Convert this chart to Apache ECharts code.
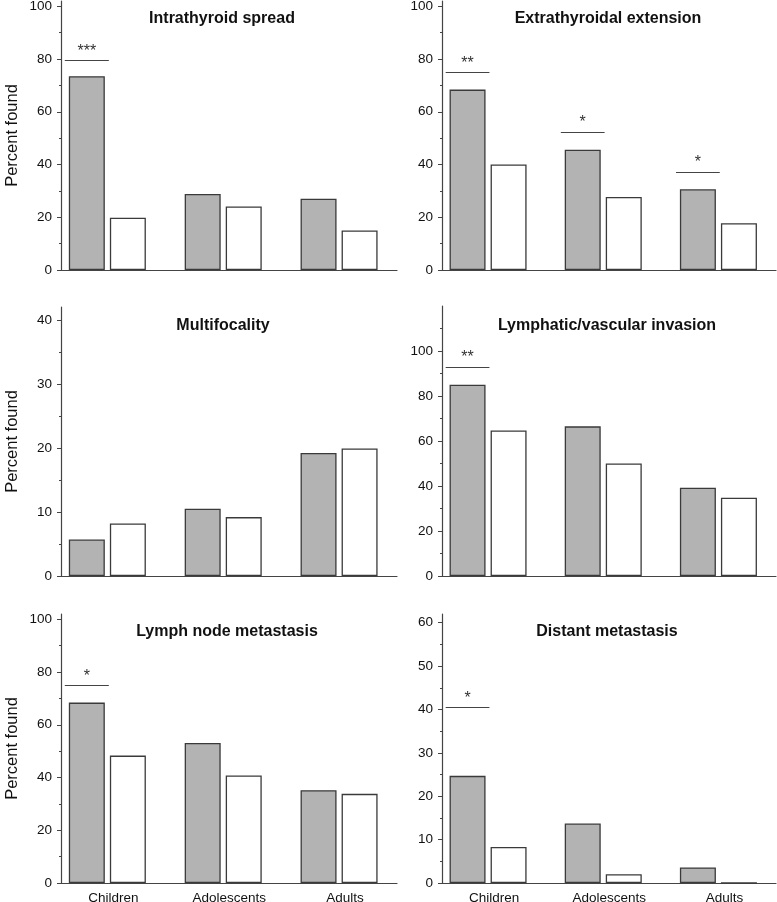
<!DOCTYPE html>
<html>
<head>
<meta charset="utf-8">
<title></title>
<script src="https://cdn.jsdelivr.net/npm/echarts@6/dist/echarts.min.js"></script>
<style>
html, body { margin: 0; padding: 0; background: #fff; }
#mainChart { width: 777px; height: 902px; }
</style>
</head>
<body>
<div id="mainChart"></div>
<script type="text/javascript">
// categories and panel titles
var categories = ['Children', 'Adolescents', 'Adults'];
var panelTitles = ['Intrathyroid spread', 'Extrathyroidal extension', 'Multifocality',
	'Lymphatic/vascular invasion', 'Lymph node metastasis', 'Distant metastasis'];

// percent found, grey (first) and white (second) bars per panel
var greyValues = [
	[73.5, 28.8, 27.0],
	[68.4, 45.6, 30.6],
	[5.7, 10.5, 19.2],
	[85.0, 66.5, 39.2],
	[68.4, 53.1, 35.2],
	[24.7, 13.7, 3.6]
];
var whiteValues = [
	[19.8, 24.1, 15.0],
	[40.0, 27.7, 17.7],
	[8.2, 9.2, 19.9],
	[64.7, 50.0, 34.8],
	[48.3, 40.8, 33.8],
	[8.3, 2.0, 0]
];

// y axis per panel
var yMax = [102, 102, 42, 120, 102, 62];
var yStep = [20, 20, 10, 20, 20, 10];
var yLastLabel = [100, 100, 40, 100, 100, 60];

// significance brackets
var sigPanel = [0, 1, 1, 1, 3, 4, 5];
var sigGroup = [0, 0, 1, 2, 0, 0, 0];
var sigValue = [79.4, 74.9, 52.3, 37.2, 92.9, 74.8, 40.4];
var sigStars = ['***', '**', '*', '*', '**', '*', '*'];

var font = "'Liberation Sans', Arial, sans-serif";
var axisColor = '#444';

// layout
var colLeft = [61, 442];
var colRight = [380, 1];
var panelTop = [1, 1, 307, 306, 614, 614];
var panelHeight = [269, 269, 269, 270, 269, 269];
var titlePos = [[222, 19], [608, 19], [223, 326], [607, 326], [227, 632], [607, 632]];

var chart = echarts.init(document.getElementById('mainChart'));

var grid = [], xAxis = [], yAxis = [], minorAxes = [], series = [], graphic = [];

for (var i = 0; i < 6; i++) {
	var col = i % 2;
	var row = Math.floor(i / 2);
	grid.push({ left: colLeft[col], right: colRight[col], top: panelTop[i], height: panelHeight[i],
		outerBoundsMode: 'none', containLabel: false });

	xAxis.push({
		type: 'value', gridIndex: i, min: -0.4, max: 2.5,
		splitLine: { show: false },
		axisTick: { show: false },
		axisLine: { show: true, onZero: false, lineStyle: { color: axisColor, width: 1.2 } },
		axisLabel: {
			show: row === 2,
			customValues: [0, 1, 2],
			formatter: function (v) { return categories[Math.round(v)]; },
			fontSize: 13.5, color: '#111', fontFamily: font, margin: 8,
			padding: [0, 0, 0, 12]
		}
	});

	var majors = [], minors = [];
	for (var v = 0; v <= yLastLabel[i]; v += yStep[i]) majors.push(v);
	for (var m = yStep[i] / 2; m < yMax[i]; m += yStep[i]) minors.push(m);

	yAxis.push({
		type: 'value', gridIndex: i, min: 0, max: yMax[i],
		name: col === 0 ? 'Percent found' : '',
		nameLocation: 'middle', nameGap: 40,
		nameTextStyle: { fontSize: 16.5, color: '#111', fontFamily: font },
		splitLine: { show: false },
		axisLine: { show: true, onZero: false, lineStyle: { color: axisColor, width: 1.2 } },
		axisTick: { show: true, customValues: majors, length: 4, lineStyle: { color: axisColor } },
		axisLabel: { customValues: majors, fontSize: 13.5, color: '#111', fontFamily: font, margin: 9 }
	});
	minorAxes.push({
		type: 'value', gridIndex: i, min: 0, max: yMax[i], position: 'left',
		splitLine: { show: false },
		axisLine: { show: false, onZero: false },
		axisLabel: { show: false },
		axisTick: { show: true, customValues: minors, length: 2, lineStyle: { color: axisColor } }
	});

	var marks = [];
	for (var s = 0; s < sigPanel.length; s++) {
		if (sigPanel[s] !== i) continue;
		marks.push([
			{ name: sigStars[s], coord: [sigGroup[s] - 0.19, sigValue[s]] },
			{ coord: [sigGroup[s] + 0.19, sigValue[s]] }
		]);
	}

	series.push({
		name: 'Group 1', type: 'bar', xAxisIndex: i, yAxisIndex: i,
		data: greyValues[i].map(function (val, k) { return [k, val]; }),
		barWidth: 36, barGap: '14%',
		itemStyle: { color: '#b3b3b3', borderColor: '#3a3a3a', borderWidth: 1.3 },
		markLine: {
			silent: true, symbol: 'none', animation: false,
			lineStyle: { color: '#444', width: 1.2, type: 'solid' },
			label: { show: true, formatter: '{b}', position: 'insideMiddleTop', distance: 1,
				fontSize: 16, color: '#333', fontFamily: font },
			data: marks
		}
	});
	series.push({
		name: 'Group 2', type: 'bar', xAxisIndex: i, yAxisIndex: i,
		data: whiteValues[i].map(function (val, k) { return [k, val]; }),
		barWidth: 36, barGap: '14%',
		itemStyle: { color: '#ffffff', borderColor: '#3a3a3a', borderWidth: 1.3 }
	});

	graphic.push({
		type: 'text', x: titlePos[i][0], y: titlePos[i][1], silent: true,
		style: { text: panelTitles[i], align: 'center', verticalAlign: 'middle',
			font: 'bold 16px ' + font, fill: '#111' }
	});
}

var option = {
	backgroundColor: '#fff',
	animation: false,
	grid: grid,
	xAxis: xAxis,
	yAxis: yAxis.concat(minorAxes),
	series: series,
	graphic: graphic
};
chart.setOption(option);
</script>
</body>
</html>
